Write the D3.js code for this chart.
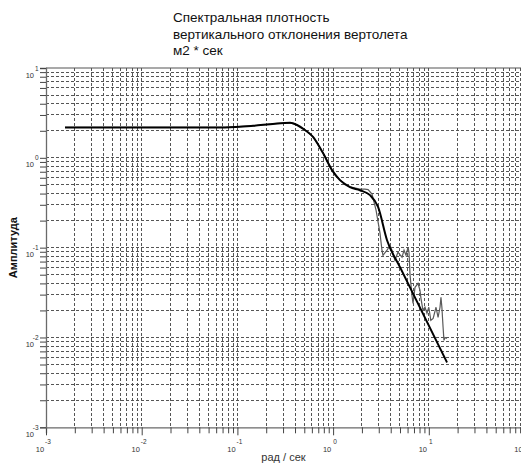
<!DOCTYPE html>
<html><head><meta charset="utf-8">
<script src="https://cdn.jsdelivr.net/npm/d3@7"></script>
<style>
html,body{margin:0;padding:0;background:#fff;}
svg{display:block;}
text{font-family:"Liberation Sans",Arial,sans-serif;}
</style></head>
<body>
<svg id="c" width="521" height="463"></svg>
<script>
// ---- data ----
const titleLines = ["Спектральная плотность", "вертикального отклонения вертолета", "м2 * сек"];
const xLabel = "рад / сек";
const yLabel = "Амплитуда";
const xMajor = [-3, -2, -1, 0, 1, 2];
const yMajor = [-3, -2, -1, 0, 1];

// smooth model spectrum
const modelW = [0.00158, 0.0741, 0.146, 0.247, 0.355, 0.42, 0.508, 0.617, 0.785, 0.974, 1.18, 1.50, 1.91, 2.43, 2.95, 3.66, 5.00, 15.5];
const modelA = [2.18, 2.18, 2.27, 2.40, 2.45, 2.32, 2.04, 1.71, 1.13, 0.73, 0.564, 0.471, 0.436, 0.384, 0.284, 0.121, 0.0606, 0.00527];

// measured (noisy) spectrum
const measW = [0.00158, 0.0741, 0.146, 0.247, 0.355, 0.42, 0.508, 0.617, 0.785, 0.974, 1.18, 1.50, 1.91, 2.15, 2.32, 2.55, 2.81, 3.09, 3.24, 3.32, 3.66, 3.93, 4.12, 4.43, 4.76, 5.25, 5.51, 5.78, 6.07, 6.21, 6.37, 6.67, 6.84, 7.18, 7.71, 8.09, 8.28, 8.69, 9.12, 9.57, 10.0, 10.5, 11.1, 11.9, 12.5, 13.1, 13.4, 13.7, 14.1, 14.4, 14.8, 15.5];
const measA = [2.18, 2.18, 2.27, 2.40, 2.45, 2.32, 2.04, 1.71, 1.13, 0.73, 0.564, 0.475, 0.448, 0.448, 0.442, 0.394, 0.261, 0.145, 0.0936, 0.0822, 0.0936, 0.106, 0.0936, 0.0724, 0.0889, 0.0782, 0.0936, 0.0822, 0.101, 0.0889, 0.0492, 0.0294, 0.0240, 0.0362, 0.0401, 0.0335, 0.0273, 0.0200, 0.0217, 0.0186, 0.0217, 0.0155, 0.0163, 0.0217, 0.0167, 0.0217, 0.0280, 0.0217, 0.0130, 0.00929, 0.0100, 0.00977];

// ---- layout ----
const svg = d3.select("#c");
const L = 46, R = 524.5, T = 68, B = 427.3;
const x = d3.scaleLog().domain([1e-3, 1e2]).range([L, R]);
const y = d3.scaleLog().domain([1e-3, 1e1]).range([B, T]);

function allTicks(lo, hi) {
  const t = [];
  for (let e = lo; e < hi; e++) for (let m = 1; m <= 9; m++) t.push(m * Math.pow(10, e));
  t.push(Math.pow(10, hi));
  return t;
}
const xt = allTicks(-3, 2);
const yt = allTicks(-3, 1);

// grid
const grid = svg.append("g");
grid.selectAll("line.v").data(xt.filter(v => v > 1e-3 * 1.0001)).enter().append("line")
  .attr("x1", d => x(d)).attr("x2", d => x(d)).attr("y1", T).attr("y2", B)
  .attr("stroke", "#555").attr("stroke-width", 1).attr("stroke-dasharray", "3,2")
  .attr("shape-rendering", "crispEdges");
grid.selectAll("line.h").data(yt.filter(v => v > 1e-3 * 1.0001 && v < 10 * 0.9999)).enter().append("line")
  .attr("x1", L).attr("x2", 521).attr("y1", d => y(d)).attr("y2", d => y(d))
  .attr("stroke", "#555").attr("stroke-width", 1).attr("stroke-dasharray", "3,2")
  .attr("shape-rendering", "crispEdges");

// top border
svg.append("line").attr("x1", L).attr("x2", 521).attr("y1", T).attr("y2", T)
  .attr("stroke", "#555").attr("stroke-width", 1.2);

// axes
const xAxis = d3.axisBottom(x).tickValues(xt).tickSize(6).tickFormat("");
const gx = svg.append("g").attr("transform", `translate(0,${B})`).call(xAxis);
const yAxis = d3.axisLeft(y).tickValues(yt).tickSize(6).tickFormat("");
const gy = svg.append("g").attr("transform", `translate(${L},0)`).call(yAxis);
[gx, gy].forEach(g => {
  g.select(".domain").attr("stroke", "#6a6a6a").attr("stroke-width", 1.3);
  g.selectAll(".tick line").attr("stroke", "#444").attr("stroke-width", 1);
});
gx.selectAll(".tick line").attr("y2", d => Math.abs(Math.log10(d) - Math.round(Math.log10(d))) < 1e-6 ? 8 : 6);

// tick labels
const lab = svg.append("g").attr("fill", "#333").style("font-size", "7.5px");
xMajor.forEach(e => {
  const px = x(Math.pow(10, e));
  lab.append("text").attr("x", px - 6).attr("y", B + 24.5).attr("text-anchor", "middle").text("10");
  lab.append("text").attr("x", px + 2).attr("y", B + 17).attr("text-anchor", "middle").style("font-size", "6.5px").text(String(e));
});
yMajor.forEach(e => {
  const py = y(Math.pow(10, e));
  lab.append("text").attr("x", 34).attr("y", py + 9.5).attr("text-anchor", "end").text("10");
  lab.append("text").attr("x", 38.5).attr("y", py + 2.5).attr("text-anchor", "end").style("font-size", "6.5px").text(String(e));
});

// curves
const line = d3.line().x(d => x(d[0])).y(d => y(d[1]));
svg.append("path").datum(measW.map((w, i) => [w, measA[i]]))
  .attr("d", line).attr("fill", "none").attr("stroke", "#5a5a5a").attr("stroke-width", 1.2);
svg.append("path").datum(modelW.map((w, i) => [w, modelA[i]]))
  .attr("d", line.curve(d3.curveMonotoneX)).attr("fill", "none").attr("stroke", "#000").attr("stroke-width", 2);

// titles
const tg = svg.append("g").attr("fill", "#111").style("font-size", "13.5px");
titleLines.forEach((t, i) => tg.append("text").attr("x", 173).attr("y", 22 + i * 16.5).text(t));

svg.append("text").attr("x", (L + 521) / 2).attr("y", 461).attr("text-anchor", "middle")
  .attr("fill", "#333").style("font-size", "11px").text(xLabel);
svg.append("text").attr("transform", `translate(17,${(T + B) / 2}) rotate(-90)`).attr("text-anchor", "middle")
  .attr("fill", "#111").style("font-size", "11px").style("font-weight", "bold").text(yLabel);
</script>
</body></html>
